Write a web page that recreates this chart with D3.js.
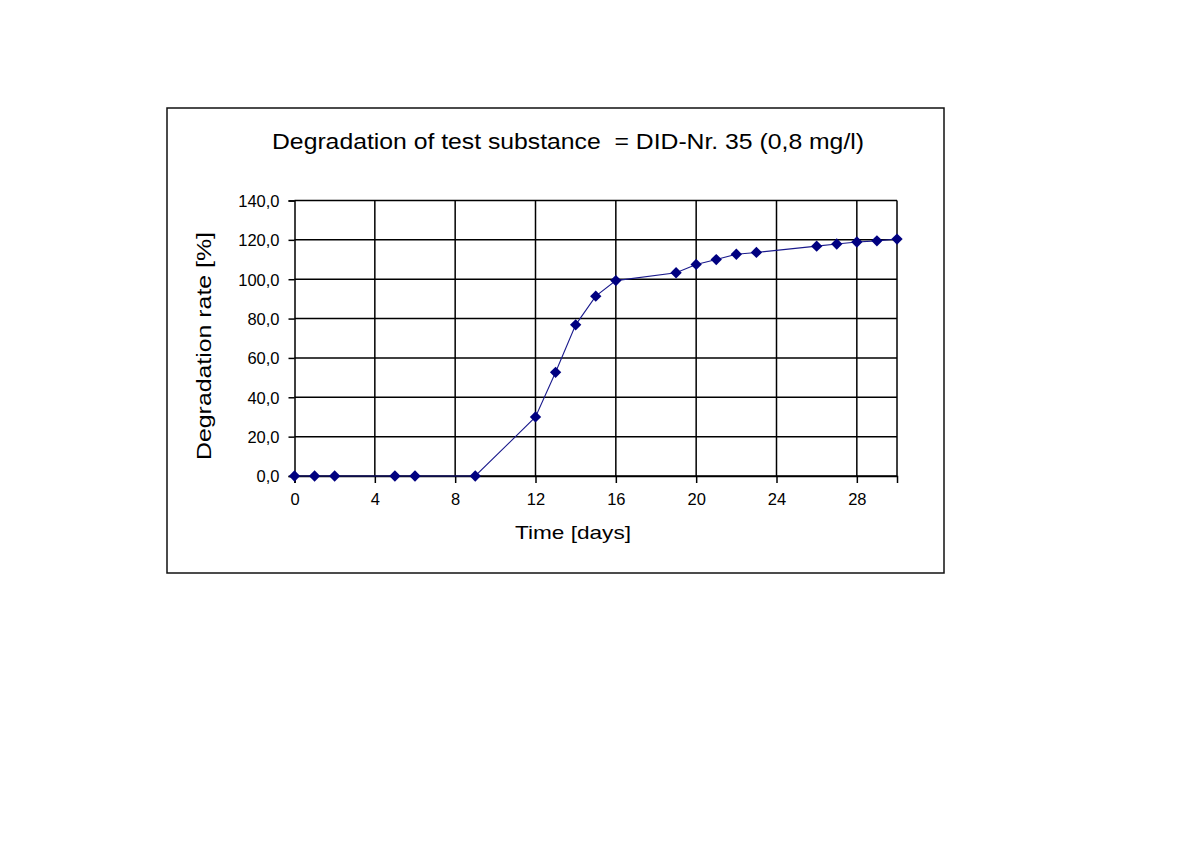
<!DOCTYPE html>
<html>
<head>
<meta charset="utf-8">
<script src="https://cdn.jsdelivr.net/npm/d3@7"></script>
<style>
  html, body { margin: 0; padding: 0; background: #fff; }
  svg { display: block; }
  text { font-family: "Liberation Sans", Arial, sans-serif; fill: #000; }
</style>
</head>
<body>
<svg id="chart" width="1200" height="849"></svg>
<script>
// Data
const days = [0, 1, 2, 5, 6, 9, 12, 13, 14, 15, 16, 19, 20, 21, 22, 23, 26, 27, 28, 29, 30];
const degradation = [0, 0, 0, 0, 0, 0, 30, 52.7, 76.8, 91.4, 99.3, 103.3, 107.5, 110.0, 112.7, 113.6, 116.8, 117.9, 118.9, 119.5, 120.4];
const xTicks = [0, 4, 8, 12, 16, 20, 24, 28];
const yTicks = [0, 20, 40, 60, 80, 100, 120, 140];
const titleText = "Degradation of test substance  = DID-Nr. 35 (0,8 mg/l)";
const xLabel = "Time [days]";
const yLabel = "Degradation rate [%]";

const svg = d3.select("#chart");

// Outer frame
svg.append("rect")
  .attr("x", 167).attr("y", 108)
  .attr("width", 777).attr("height", 465)
  .attr("fill", "#fff").attr("stroke", "#111").attr("stroke-width", 1.5);

const plot = { left: 294.5, right: 897, top: 200.5, bottom: 476 };

const x = d3.scaleLinear().domain([0, 30]).range([plot.left, plot.right]);
const y = d3.scaleLinear().domain([0, 140]).range([plot.bottom, plot.top]);

// Grid
const g = svg.append("g");
g.selectAll("line.hgrid").data(yTicks).join("line")
  .attr("x1", plot.left).attr("x2", plot.right)
  .attr("y1", d => y(d)).attr("y2", d => y(d))
  .attr("stroke", "#000").attr("stroke-width", 1.5);
g.selectAll("line.vgrid").data(xTicks.filter(d => d > 0)).join("line")
  .attr("x1", d => x(d)).attr("x2", d => x(d))
  .attr("y1", plot.top).attr("y2", plot.bottom)
  .attr("stroke", "#000").attr("stroke-width", 1.5);
// right border
g.append("line")
  .attr("x1", x(30)).attr("x2", x(30))
  .attr("y1", plot.top).attr("y2", plot.bottom)
  .attr("stroke", "#000").attr("stroke-width", 1.5);

// Axes
const fmt = d => d3.format(".1f")(d).replace(".", ",");
const yAxis = d3.axisLeft(y).tickValues(yTicks).tickSize(6).tickPadding(9).tickFormat(fmt);
const xAxis = d3.axisBottom(x).tickValues(xTicks).tickSize(7).tickPadding(10).tickFormat(d3.format("d"));

const ya = svg.append("g").attr("transform", `translate(${plot.left},0)`).call(yAxis);
const xa = svg.append("g").attr("transform", `translate(0,${plot.bottom})`).call(xAxis);
[ya, xa].forEach(a => {
  a.select(".domain").attr("stroke", "#000").attr("stroke-width", 1.5);
  a.selectAll(".tick line").attr("stroke", "#000").attr("stroke-width", 1.5);
  a.selectAll(".tick text")
    .attr("font-family", "'Liberation Sans', Arial, sans-serif")
    .attr("font-size", 16.5).attr("fill", "#111");
});
ya.selectAll(".tick text").attr("dy", "0.36em");

// Line
const line = d3.line().x((d, i) => x(days[i])).y(d => y(d));
svg.append("path")
  .datum(degradation)
  .attr("d", line)
  .attr("fill", "none")
  .attr("stroke", "#1a1a8c").attr("stroke-width", 1.1);

// Diamond markers
svg.selectAll("path.pt").data(degradation).join("path")
  .attr("class", "pt")
  .attr("d", d3.symbol().type(d3.symbolSquare).size(64))
  .attr("transform", (d, i) => `translate(${x(days[i])},${y(d)}) rotate(45)`)
  .attr("fill", "#000080");

// Title
svg.append("text")
  .attr("x", 568).attr("y", 148.5)
  .attr("text-anchor", "middle")
  .attr("font-size", 22)
  .style("white-space", "pre")
  .attr("textLength", 592).attr("lengthAdjust", "spacingAndGlyphs")
  .text(titleText);

// X label
svg.append("text")
  .attr("x", 573).attr("y", 539)
  .attr("text-anchor", "middle")
  .attr("font-size", 19)
  .attr("textLength", 116).attr("lengthAdjust", "spacingAndGlyphs")
  .text(xLabel);

// Y label
svg.append("text")
  .attr("transform", "translate(211,346) rotate(-90)")
  .attr("text-anchor", "middle")
  .attr("font-size", 21)
  .attr("textLength", 228).attr("lengthAdjust", "spacingAndGlyphs")
  .text(yLabel);
</script>
</body>
</html>
